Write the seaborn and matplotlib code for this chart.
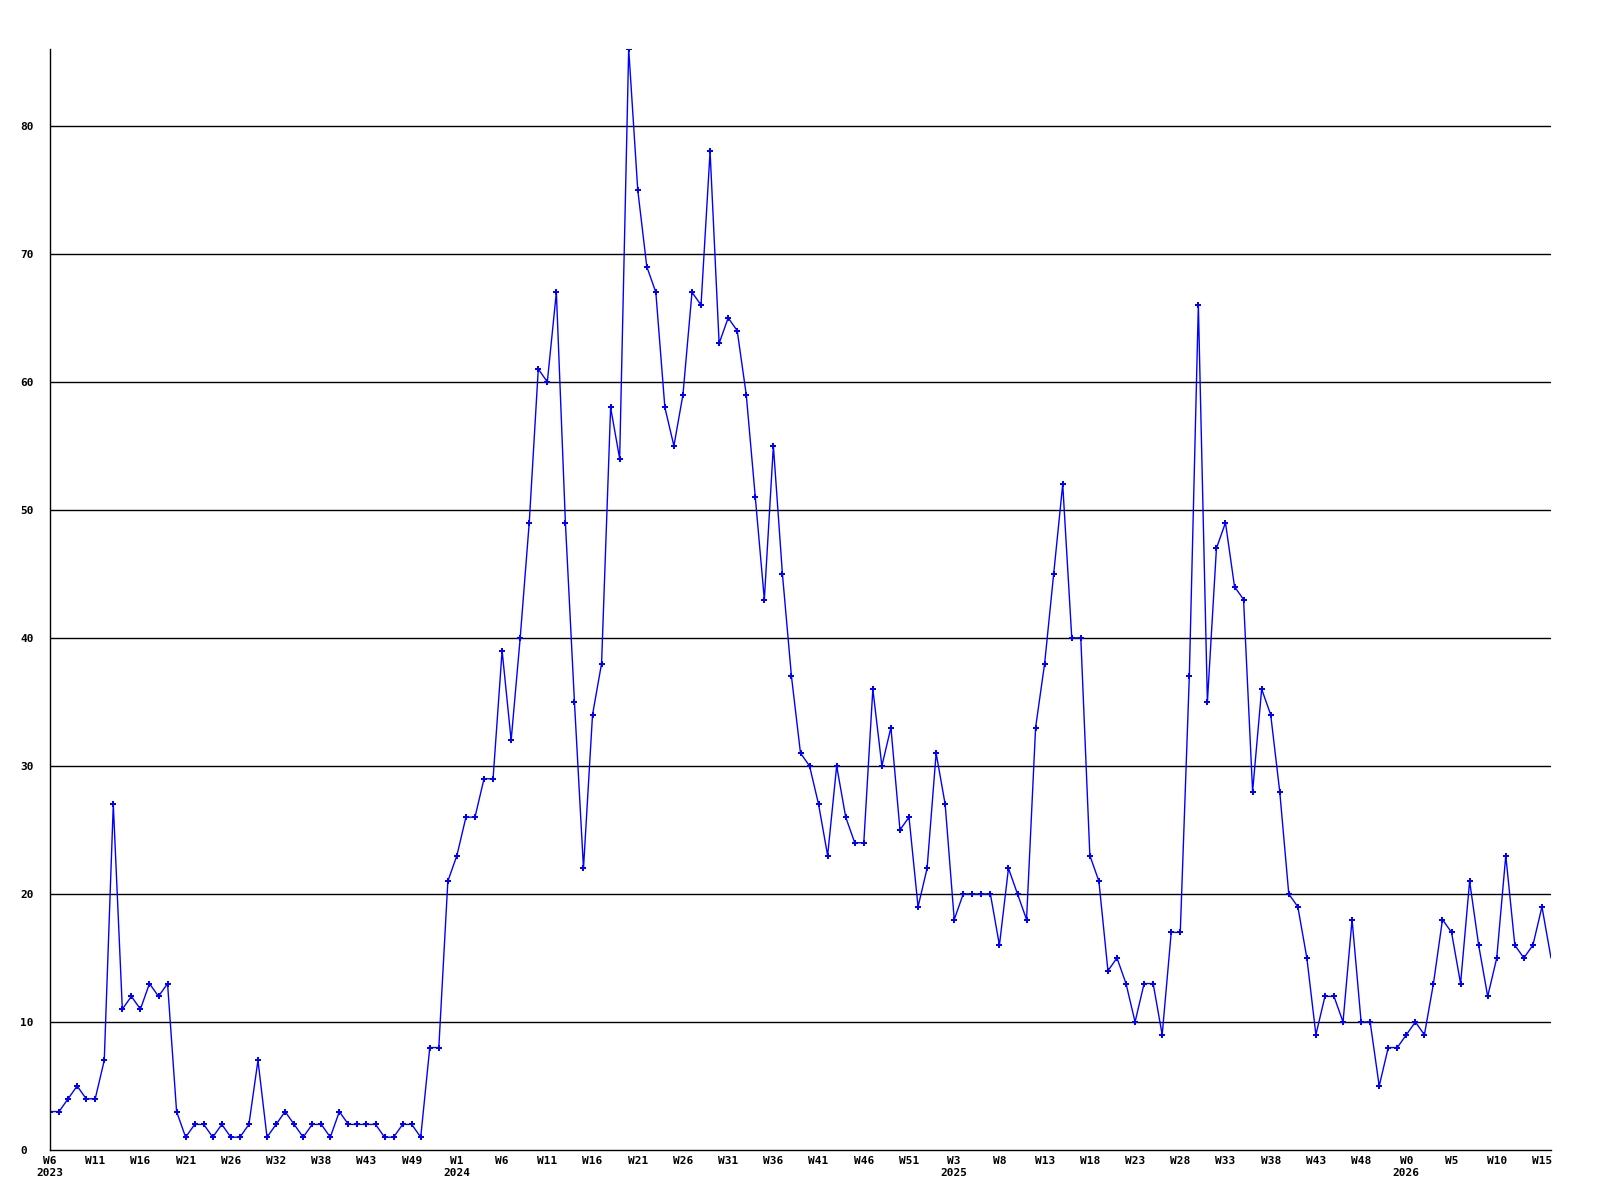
import matplotlib
matplotlib.use("Agg")
import matplotlib.pyplot as plt
import seaborn as sns
import pandas as pd
import numpy as np

values = [3, 3, 4, 5, 4, 4, 7, 27, 11, 12, 11, 13, 12, 13, 3, 1, 2, 2, 1, 2,
          1, 1, 2, 7, 1, 2, 3, 2, 1, 2, 2, 1, 3, 2, 2, 2, 2, 1, 1, 2,
          2, 1, 8, 8, 21, 23, 26, 26, 29, 29, 39, 32, 40, 49, 61, 60, 67, 49, 35, 22,
          34, 38, 58, 54, 86, 75, 69, 67, 58, 55, 59, 67, 66, 78, 63, 65, 64, 59, 51, 43,
          55, 45, 37, 31, 30, 27, 23, 30, 26, 24, 24, 36, 30, 33, 25, 26, 19, 22, 31, 27,
          18, 20, 20, 20, 20, 16, 22, 20, 18, 33, 38, 45, 52, 40, 40, 23, 21, 14, 15, 13,
          10, 13, 13, 9, 17, 17, 37, 66, 35, 47, 49, 44, 43, 28, 36, 34, 28, 20, 19, 15,
          9, 12, 12, 10, 18, 10, 10, 5, 8, 8, 9, 10, 9, 13, 18, 17, 13, 21, 16, 12,
          15, 23, 16, 15, 16, 19, 15]

week_labels = ["W6", "W11", "W16", "W21", "W26", "W32", "W38", "W43", "W49",
               "W1", "W6", "W11", "W16", "W21", "W26", "W31", "W36", "W41", "W46", "W51",
               "W3", "W8", "W13", "W18", "W23", "W28", "W33", "W38", "W43", "W48",
               "W0", "W5", "W10", "W15"]
year_labels = {0: "2023", 9: "2024", 20: "2025", 30: "2026"}
y_ticks = [0, 10, 20, 30, 40, 50, 60, 70, 80]

df = pd.DataFrame({"idx": np.arange(len(values)), "count": values})

sns.set_style("white")
plt.rcParams["font.family"] = ["DejaVu Sans Mono"]
plt.rcParams["text.color"] = "black"
plt.rcParams["xtick.color"] = "black"
plt.rcParams["ytick.color"] = "black"

fig = plt.figure(figsize=(16, 12), dpi=100)
ax = fig.add_axes([50 / 1600, 1 - 1150 / 1200, 1501 / 1600, 1101 / 1200])

sns.lineplot(data=df, x="idx", y="count", ax=ax, color="#0000ff", linewidth=1.0,
             marker="P", markersize=4.2, markeredgewidth=0, markevery=list(range(len(values) - 1)))

ax.set_xlim(0, len(values) - 1)
ax.set_ylim(0, max(values))

tick_pos = [5 * i for i in range(len(week_labels))]
labels = []
for i, w in enumerate(week_labels):
    if i in year_labels:
        labels.append(w + "\n" + year_labels[i])
    else:
        labels.append(w)
ax.set_xticks(tick_pos)
ax.set_xticklabels(labels, fontsize=8, fontweight="bold", linespacing=1.3, color="black")
ax.set_yticks(y_ticks)
ax.set_yticklabels([str(v) for v in y_ticks], fontsize=8, fontweight="bold", color="black")
for lab in ax.get_yticklabels():
    lab.set_horizontalalignment("left")
for lab in ax.get_xticklabels():
    lab.set_verticalalignment("top")

ax.tick_params(axis="y", length=0, pad=21.6, labelcolor="black")
ax.tick_params(axis="x", length=0, pad=4, labelcolor="black")

ax.grid(False)
for v in y_ticks[1:]:
    ax.axhline(v, color="black", linewidth=1.0, zorder=0)

ax.spines["top"].set_visible(False)
ax.spines["right"].set_visible(False)
ax.spines["left"].set_color("black")
ax.spines["bottom"].set_color("black")
ax.spines["left"].set_linewidth(1.0)
ax.spines["bottom"].set_linewidth(1.0)

ax.set_xlabel("")
ax.set_ylabel("")
if ax.get_legend() is not None:
    ax.get_legend().remove()

fig.savefig("out.png", dpi=100, facecolor="white")
